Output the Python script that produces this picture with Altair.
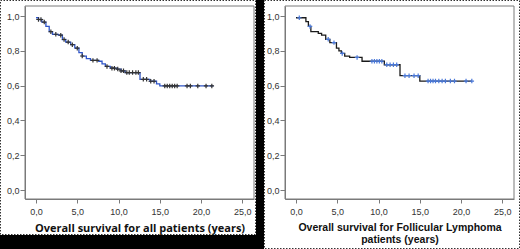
import altair as alt
import pandas as pd

# ---- data ----
# All patients: Kaplan-Meier steps (time in years, survival)
all_t = [0.0, 0.3, 0.7, 1.2, 1.6, 2.0, 2.7, 3.2, 3.6, 4.2, 4.7, 5.2, 5.6, 6.1, 6.6,
         7.6, 8.0, 8.4, 9.0, 9.8, 10.3, 10.8, 12.6, 13.8, 14.6, 15.0, 21.5]
all_s = [0.99, 0.98, 0.965, 0.94, 0.91, 0.895, 0.89, 0.865, 0.85, 0.835, 0.815, 0.79,
         0.77, 0.755, 0.745, 0.74, 0.725, 0.71, 0.70, 0.695, 0.685, 0.675, 0.636, 0.625,
         0.61, 0.598, 0.598]
all_cens = [0.3, 0.6, 1.0, 1.8, 2.4, 3.0, 3.4, 3.9, 4.4, 5.0, 5.6, 6.9, 7.4, 8.6, 9.2,
            9.5, 9.9, 10.3, 10.6, 11.0, 11.3, 11.7, 12.1, 12.4, 13.0, 13.4, 13.9, 14.3,
            15.6, 15.9, 16.2, 16.5, 16.8, 17.1, 18.3, 18.7, 19.6, 20.6, 21.3]

# Follicular lymphoma patients
fl_t = [0.0, 1.2, 1.5, 1.8, 2.7, 3.1, 3.6, 4.1, 4.9, 5.2, 5.5, 5.9, 6.5, 8.0, 10.7,
        12.6, 15.0, 21.3]
fl_s = [0.99, 0.968, 0.94, 0.91, 0.90, 0.89, 0.866, 0.847, 0.815, 0.80, 0.785, 0.77,
        0.762, 0.74, 0.72, 0.657, 0.626, 0.626]
fl_cens = [0.4, 1.7, 3.9, 4.6, 5.6, 7.4, 9.2, 9.5, 9.8, 10.1, 10.4, 11.0, 11.4, 11.8,
           12.2, 13.2, 13.7, 14.3, 14.8, 16.0, 16.3, 16.6, 16.9, 17.3, 17.7, 18.1,
           18.7, 19.2, 20.6, 21.3]

x_ticks = [0, 5, 10, 15, 20, 25]
y_ticks = [0.0, 0.2, 0.4, 0.6, 0.8, 1.0]
title_all = "Overall survival for all patients (years)"
title_fl = ["Overall survival for Follicular Lymphoma", "patients (years)"]


def step_at(ts, ss, t):
    v = ss[0]
    for ti, si in zip(ts, ss):
        if ti <= t:
            v = si
    return v


df_all = pd.DataFrame({"t": all_t, "s": all_s})
df_all_c = pd.DataFrame({"t": all_cens, "s": [step_at(all_t, all_s, t) for t in all_cens]})
df_fl = pd.DataFrame({"t": fl_t, "s": fl_s})
df_fl_c = pd.DataFrame({"t": fl_cens, "s": [step_at(fl_t, fl_s, t) for t in fl_cens]})

one = pd.DataFrame({"a": [0]})

W, H = 520, 249
AX_Y = 199
TOP = 6
XDOM = [-1.333, 26.41]
YDOM = [-0.0517, 1.0575]
LABEL = "replace(format(datum.value, '.1f'), '.', ',')"
PLUS = "M-1,0L1,0M0,-1L0,1"
AXC = "#7a7a7a"


def panel(df, dfc, x0, x1, title, line_color, mark_color, title_font, title_size):
    xs = alt.Scale(domain=XDOM, range=[x0, x1], nice=False, zero=False)
    ys = alt.Scale(domain=YDOM, range=[AX_Y, TOP], nice=False, zero=False)
    xax = alt.Axis(orient="bottom", offset=AX_Y - H, values=x_ticks, labelExpr=LABEL,
                   grid=False, domainColor=AXC, tickColor=AXC, tickSize=4,
                   labelFont="Liberation Sans", labelFontSize=9, labelColor="#333333",
                   labelPadding=4, title=title, titleFont=title_font,
                   titleFontSize=title_size, titleFontWeight="bold", titleColor="#111111",
                   titlePadding=6, titleLineHeight=12)
    yax = alt.Axis(orient="left", offset=-x0, values=y_ticks, labelExpr=LABEL,
                   grid=False, domainColor=AXC, tickColor=AXC, tickSize=5,
                   labelFont="Liberation Sans", labelFontSize=9, labelColor="#333333",
                   labelPadding=1, title=None)
    line = alt.Chart(df).mark_line(interpolate="step-after", color=line_color,
                                   strokeWidth=1.3).encode(
        x=alt.X("t:Q", scale=xs, axis=xax),
        y=alt.Y("s:Q", scale=ys, axis=yax))
    pts = alt.Chart(dfc).mark_point(shape=PLUS, size=20, color=mark_color, filled=False,
                                    strokeWidth=1.2, opacity=1).encode(
        x=alt.X("t:Q", scale=xs, axis=xax),
        y=alt.Y("s:Q", scale=ys, axis=yax))
    frame = alt.Chart(one).mark_rect(fill=None, stroke=AXC, strokeWidth=1).encode(
        x=alt.value(x0), x2=alt.value(x1), y=alt.value(TOP), y2=alt.value(AX_Y))
    return alt.layer(frame, line, pts)


def rect(x, x2, y, y2, **kw):
    return alt.Chart(one).mark_rect(**kw).encode(
        x=alt.value(x), x2=alt.value(x2), y=alt.value(y), y2=alt.value(y2))


decor = alt.layer(
    rect(256, 264, 0, H, color="#000000"),
    rect(0, 264, 235, H, color="#000000"),
    rect(0.5, 255.5, 0.5, 234.5, fill=None, stroke="#333333", strokeWidth=1,
         strokeDash=[1.5, 1.5]),
    rect(264.5, 519.5, 0.5, 248.5, fill=None, stroke="#333333", strokeWidth=1,
         strokeDash=[1.5, 1.5]),
)

left = panel(df_all, df_all_c, 25, 254, title_all, "#2f55c8", "#333333", "Open Sans", 11)
right = panel(df_fl, df_fl_c, 285, 514, title_fl, "#1a1a1a", "#4a78d8", "Liberation Sans", 10.5)

chart = alt.layer(decor, left, right).resolve_scale(
    x="independent", y="independent").resolve_axis(
    x="independent", y="independent").properties(
    width=W, height=H, autosize=alt.AutoSizeParams(type="none"), padding=0,
    background="white").configure_view(stroke=None)

chart.save("out.html", embed_options={"renderer": "svg", "actions": False})
